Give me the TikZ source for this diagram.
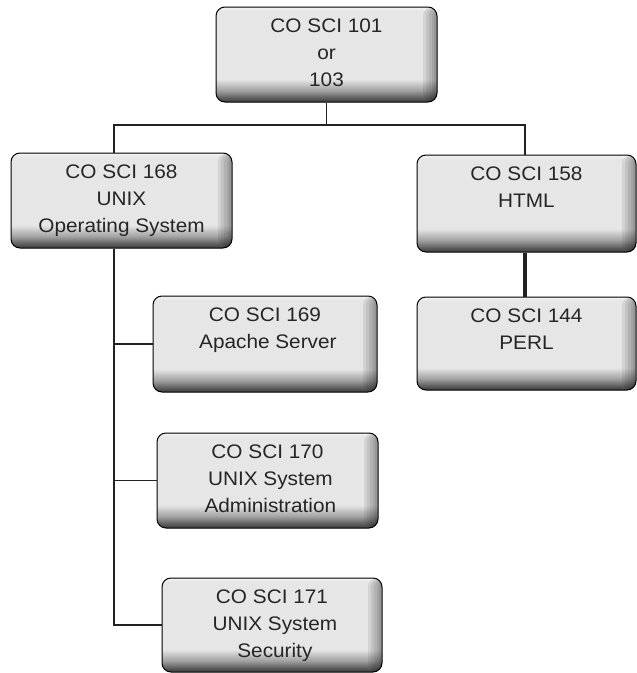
\documentclass[tikz,border=0pt]{standalone}
\usepackage{fontspec}
\setmainfont{Liberation Sans}[FakeStretch=1.06]
\usetikzlibrary{calc}
\definecolor{bxd}{HTML}{3C3C3C}
\definecolor{bxm}{HTML}{5A5A5A}
\definecolor{bxn}{HTML}{A0A0A0}
\definecolor{bxl}{HTML}{E6E6E6}
\definecolor{bxt}{HTML}{F0F0F0}
\definecolor{lnc}{HTML}{222222}
\pgfdeclareverticalshading{boxsh}{100bp}{color(0bp)=(bxd); color(25bp)=(bxd); color(27bp)=(bxm); color(31bp)=(bxn); color(37bp)=(bxl); color(73bp)=(bxl); color(74.5bp)=(bxt); color(75bp)=(bxt); color(100bp)=(bxt)}
\newcommand{\btext}[3]{\parbox[c][#2pt][t]{#1pt}{\centering\rule{0pt}{25pt}#3\par}}
\tikzset{
  cbox/.style={draw=black, line width=1pt, rounded corners=9pt, shading=boxsh, inner sep=0pt,
    text=black!85, font=\fontsize{19.6}{27}\selectfont,
    path picture={\foreach \w in {14,11,8,5,3}{\fill[black,opacity=0.08] ($(path picture bounding box.north east)+(-\w,0)$) rectangle (path picture bounding box.south east);}}},
  conn/.style={draw=lnc, line width=1.8pt},
  thickconn/.style={draw=lnc, line width=3.2pt}
}
\begin{document}
\begin{tikzpicture}[x=1pt,y=-1pt]
\useasboundingbox (0,0) rectangle (637,673);
\node[cbox] (top) at (326.5,54.5) {\btext{221}{95}{CO SCI 101\\or\\103}};
\node[cbox] (b168) at (121.5,200.5) {\btext{221}{95}{CO SCI 168\\UNIX\\Operating System}};
\node[cbox] (b158) at (526.5,203.5) {\btext{219}{97}{CO SCI 158\\HTML}};
\node[cbox] (b144) at (526.5,343.5) {\btext{219}{93}{CO SCI 144\\PERL}};
\node[cbox] (b169) at (265,344) {\btext{224}{96}{CO SCI 169\\\ Apache Server}};
\node[cbox] (b170) at (267.5,480.5) {\btext{221}{95}{CO SCI 170\\\ UNIX System\\\ Administration}};
\node[cbox] (b171) at (272,625) {\btext{220}{94}{CO SCI 171\\\ UNIX System\\\ Security}};
\coordinate (j) at (326.5,125);
\coordinate (t) at ($(b168.south)+(-7.5,0)$);
\draw[conn] (top.south) -- (j);
\draw[conn] (j) -| ($(b168.north)+(-7.5,0)$);
\draw[conn] (j) -| ($(b158.north)+(-1.5,0)$);
\draw[conn] (t) |- (b169.west);
\draw[conn] (t) |- (b170.west);
\draw[conn] (t) |- (b171.west);
\draw[thickconn] ($(b158.south)+(-1.5,0)$) -- ($(b144.north)+(-1.5,0)$);
\end{tikzpicture}
\end{document}
